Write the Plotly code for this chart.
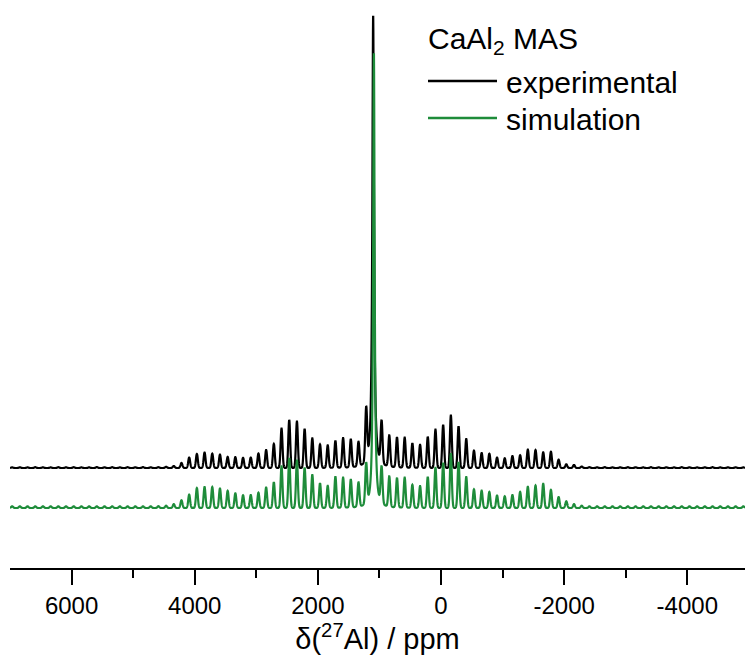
import numpy as np
import plotly.graph_objects as go

# ---- values ----
center_ppm = 1090.0            # isotropic (central) line position, ppm
sideband_spacing_ppm = 125.0   # spinning sideband spacing, ppm
exp_offset = 40.0              # vertical offset of experimental trace (a.u.)

exp_center_height = 453.0
sim_center_height = 456.0

# sideband heights on the high-ppm (left) side, order 1, 2, 3, ...
exp_left = [53, 24.3, 28, 29.5, 27, 22.5, 23.5, 29.5, 39, 46.5, 48, 39.5, 24, 18,
            14.5, 10.5, 10.2, 10.8, 11, 13.3, 14.3, 15.5, 14, 10.5, 5, 2, 1.2,
            0.8, 0.7, 0.9, 0.7, 0.8, 0.6, 0.8, 0.7, 0.9, 0.7, 0.6, 0.8, 0.7, 0.8,
            0.6, 0.7, 0.8, 0.6, 0.7, 0.6]
sim_left = [40, 24.3, 28, 30, 31.3, 22, 24.7, 33, 40.2, 47.5, 50, 41.7, 25.8, 20.5,
            15.3, 13, 12.8, 14.7, 17.2, 19.5, 21, 21, 20, 13.3, 7.7, 3.8, 2.3,
            1.8, 1.7, 1.7, 1.7, 1.7, 1.7, 1.7, 1.7, 1.7, 1.7, 1.7, 1.7, 1.7, 1.7,
            1.7, 1.7, 1.7, 1.7, 1.7, 1.7]
# sideband heights on the low-ppm (right) side, order 1, 2, 3, ...
exp_right = [42, 31, 30, 30, 24.5, 23, 31, 38.3, 43, 52.5, 41.7, 29, 17.2, 15,
             14.3, 10.5, 9.7, 12, 12.8, 18.3, 18, 15.7, 16.2, 8.3, 3.7, 3, 1.5,
             0.8, 0.7, 0.8, 0.6, 0.7, 0.8, 0.7, 0.6, 0.8, 0.7, 0.7, 0.6, 0.8, 0.7,
             0.6, 0.7, 0.8, 0.6, 0.7, 0.7, 0.6]
sim_right = [36.5, 30.3, 29.5, 30, 23, 21.7, 31, 40.2, 45, 54, 46, 31, 18.7, 17.3,
             16, 12.5, 11.7, 13, 16, 21.3, 22.5, 24.3, 18, 11, 6.7, 3.8, 2.3,
             1.7, 1.7, 1.7, 1.7, 1.7, 1.7, 1.7, 1.7, 1.7, 1.7, 1.7, 1.7, 1.7, 1.7,
             1.7, 1.7, 1.7, 1.7, 1.7, 1.7, 1.7]

tick_values = [6000, 4000, 2000, 0, -2000, -4000]
tick_labels = ["6000", "4000", "2000", "0", "-2000", "-4000"]
minor_tick_values = [5000, 3000, 1000, -1000, -3000]
x_range = [7000, -4937]

exp_color = "#000000"
sim_color = "#1e8c3a"
FONT = "Arial, Liberation Sans, sans-serif"

# ---- line shapes ----
ppm = np.arange(x_range[1], x_range[0] + 1.0, 2.0)


def gauss(x, x0, fwhm):
    s = fwhm / 2.3548
    return np.exp(-0.5 * ((x - x0) / s) ** 2)


def lorentz(x, x0, fwhm):
    return 1.0 / (1.0 + ((x - x0) / (fwhm / 2.0)) ** 2)


def spectrum(c_height, c_shift, c_fwhm, left, right, sb_fwhm):
    y = c_height * lorentz(ppm, center_ppm + c_shift, c_fwhm)
    for n, h in enumerate(left, start=1):
        y += h * gauss(ppm, center_ppm + n * sideband_spacing_ppm, sb_fwhm)
    for n, h in enumerate(right, start=1):
        y += h * gauss(ppm, center_ppm - n * sideband_spacing_ppm, sb_fwhm)
    return y


y_exp = spectrum(exp_center_height, 12.0, 32.0, exp_left, exp_right, 36.0) + exp_offset
y_sim = spectrum(sim_center_height, 0.0, 28.0, sim_left, sim_right, 36.0)

fig = go.Figure()
fig.add_trace(go.Scatter(x=ppm, y=y_exp, mode="lines", name="experimental",
                         line=dict(color=exp_color, width=2.2, simplify=False)))
fig.add_trace(go.Scatter(x=ppm, y=y_sim, mode="lines", name="simulation",
                         line=dict(color=sim_color, width=2.2, simplify=False)))

# ---- legend drawn as text + short lines ----
W, H = 735.0, 568.0  # plot area size in px
L0 = 10.0


def px(xp):
    return (xp - L0) / W


def py(yp):
    return 1.0 - yp / H


fig.add_annotation(x=px(426), y=py(40), xref="paper", yref="paper",
                   text="CaAl<sub>2</sub> MAS", showarrow=False,
                   xanchor="left", yanchor="middle",
                   font=dict(family=FONT, size=30, color="black"))
for label, color, yline in [("experimental", exp_color, 81), ("simulation", sim_color, 118)]:
    fig.add_shape(type="line", xref="paper", yref="paper",
                  x0=px(428), x1=px(497), y0=py(yline), y1=py(yline),
                  line=dict(color=color, width=2.5))
    fig.add_annotation(x=px(504), y=py(yline + 1), xref="paper", yref="paper",
                       text=label, showarrow=False, xanchor="left", yanchor="middle",
                       font=dict(family=FONT, size=30, color="black"))

fig.update_layout(
    width=745, height=662,
    margin=dict(l=10, r=0, t=0, b=94),
    plot_bgcolor="white", paper_bgcolor="white",
    showlegend=False,
    font=dict(family=FONT, color="black"),
)
fig.update_xaxes(
    range=x_range, autorange=False,
    showline=True, linecolor="black", linewidth=2,
    ticks="outside", ticklen=15, tickwidth=2, tickcolor="black",
    tickvals=tick_values, ticktext=tick_labels,
    tickfont=dict(family=FONT, size=24, color="black"),
    showgrid=False, zeroline=False, automargin=False,
    minor=dict(tickvals=minor_tick_values, ticks="outside", ticklen=8,
               tickwidth=2, tickcolor="black", showgrid=False),
    title=dict(text="δ(<sup>27</sup>Al) / ppm", standoff=6,
               font=dict(family=FONT, size=29, color="black")),
)
fig.update_yaxes(visible=False, range=[-60, 508], autorange=False)

fig.write_html("out.html")
